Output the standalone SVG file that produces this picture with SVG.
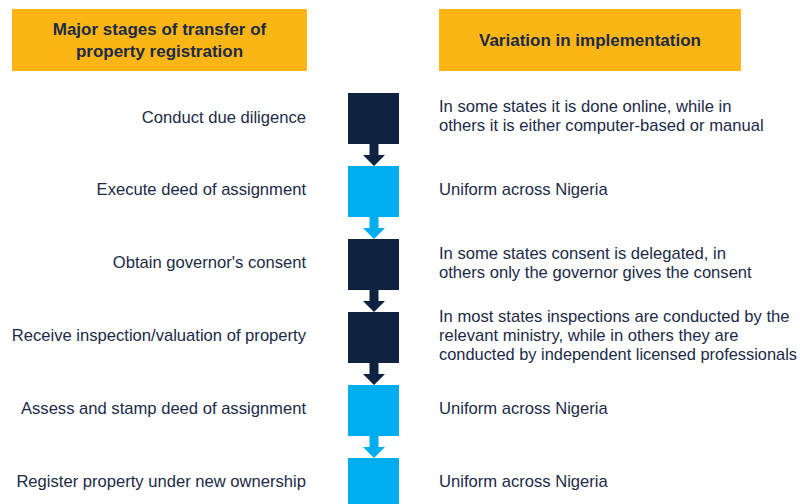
<svg xmlns="http://www.w3.org/2000/svg" width="800" height="504" viewBox="0 0 800 504">
<style>
.hdr{fill:#fbb615}
.ht{font-family:"Liberation Sans",Arial,sans-serif;font-weight:bold;font-size:17px;fill:#1b2a47;text-anchor:middle}
.lt{font-family:"Liberation Sans",Arial,sans-serif;font-size:16.6px;fill:#1b2a47;text-anchor:end}
.rt{font-family:"Liberation Sans",Arial,sans-serif;font-size:16.6px;fill:#1b2a47}
.dk{fill:#0f2240}
.lb{fill:#00aeef}
</style>
<rect width="800" height="504" fill="#ffffff"/>
<g id="header-left">
<rect class="hdr" x="12" y="9" width="295" height="62"/>
<text class="ht" x="159.5" y="35">Major stages of transfer of</text>
<text class="ht" x="159.5" y="57">property registration</text>
</g>
<g id="header-right">
<rect class="hdr" x="439" y="9" width="302" height="62"/>
<text class="ht" x="590" y="46">Variation in implementation</text>
</g>
<g id="connectors">
<path class="dk" d="M369.5,144 h9 v11 h6.5 l-11,11 l-11,-11 h6.5 z"/>
<path class="lb" d="M369.5,217 h9 v11 h6.5 l-11,11 l-11,-11 h6.5 z"/>
<path class="dk" d="M369.5,290 h9 v11 h6.5 l-11,11 l-11,-11 h6.5 z"/>
<path class="dk" d="M369.5,363 h9 v11 h6.5 l-11,11 l-11,-11 h6.5 z"/>
<path class="lb" d="M369.5,436 h9 v11 h6.5 l-11,11 l-11,-11 h6.5 z"/>
</g>
<g id="stage1">
<text class="lt" x="306" y="123">Conduct due diligence</text>
<rect class="dk" x="348" y="93" width="51" height="51"/>
<text class="rt" x="439" y="112">In some states it is done online, while in</text>
<text class="rt" x="439" y="131">others it is either computer-based or manual</text>
</g>
<g id="stage2">
<text class="lt" x="306" y="195">Execute deed of assignment</text>
<rect class="lb" x="348" y="166" width="51" height="51"/>
<text class="rt" x="439" y="195">Uniform across Nigeria</text>
</g>
<g id="stage3">
<text class="lt" x="306" y="268">Obtain governor's consent</text>
<rect class="dk" x="348" y="239" width="51" height="51"/>
<text class="rt" x="439" y="259">In some states consent is delegated, in</text>
<text class="rt" x="439" y="278">others only the governor gives the consent</text>
</g>
<g id="stage4">
<text class="lt" x="306" y="341">Receive inspection/valuation of property</text>
<rect class="dk" x="348" y="312" width="51" height="51"/>
<text class="rt" x="439" y="322">In most states inspections are conducted by the</text>
<text class="rt" x="439" y="341">relevant ministry, while in others they are</text>
<text class="rt" x="439" y="360" textLength="358" lengthAdjust="spacingAndGlyphs">conducted by independent licensed professionals</text>
</g>
<g id="stage5">
<text class="lt" x="306" y="414">Assess and stamp deed of assignment</text>
<rect class="lb" x="348" y="385" width="51" height="51"/>
<text class="rt" x="439" y="414">Uniform across Nigeria</text>
</g>
<g id="stage6">
<text class="lt" x="306" y="487">Register property under new ownership</text>
<rect class="lb" x="348" y="458" width="51" height="51"/>
<text class="rt" x="439" y="487">Uniform across Nigeria</text>
</g>
</svg>
